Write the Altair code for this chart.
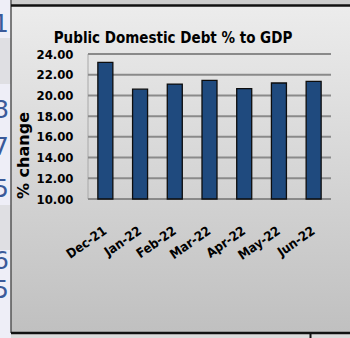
import altair as alt
import pandas as pd

# ---- data ----
months = ["Dec-21", "Jan-22", "Feb-22", "Mar-22", "Apr-22", "May-22", "Jun-22"]
debt = [23.2, 20.6, 21.1, 21.45, 20.65, 21.2, 21.35]
y_ticks = [10, 12, 14, 16, 18, 20, 22, 24]
title_text = "Public Domestic Debt % to GDP"
y_title = "% change"
edge_digits = ["1", "8", "7", "5", "6", "5"]
edge_digit_y = [24, 110, 147, 189, 261, 290]

df = pd.DataFrame({"month": months, "debt": debt})
tick_df = pd.DataFrame({"v": y_ticks})
one = pd.DataFrame({"k": [0]})
title_df = pd.DataFrame({"t": [title_text]})
edge_df = pd.DataFrame({"d": edge_digits, "yy": edge_digit_y})

PL, PT = 88, 54          # plot origin in the page
W, H = 243, 145          # plot size
NARROW = "Liberation Sans Narrow, Arial Narrow, DejaVu Sans Condensed, sans-serif"

grad = alt.LinearGradient(
    gradient="linear",
    stops=[alt.GradientStop(color="#ececec", offset=0),
           alt.GradientStop(color="#c0c0c0", offset=1)],
    x1=0, x2=0, y1=0, y2=1,
)


def box(x0, x1, y0, y1, color):
    return alt.Chart(one).mark_rect(color=color, clip=False).encode(
        x=alt.value(x0 - PL), x2=alt.value(x1 - PL),
        y=alt.value(y0 - PT), y2=alt.value(y1 - PT))


def rule(x0, x1, y0, y1, color, w):
    return alt.Chart(one).mark_rule(color=color, strokeWidth=w, clip=False).encode(
        x=alt.value(x0 - PL), x2=alt.value(x1 - PL),
        y=alt.value(y0 - PT), y2=alt.value(y1 - PT))


panel = alt.Chart(one).mark_rect(color=grad, clip=False).encode(
    x=alt.value(11 - PL), x2=alt.value(350 - PL),
    y=alt.value(6 - PT), y2=alt.value(332 - PT))

deco = [
    box(0, 11, 38, 84, "#dfdfe3"),
    box(0, 11, 205, 250, "#dfdfe3"),
    box(11, 350, 0, 5, "#cdcdcd"),
    box(11, 350, 334, 338, "#dcdcdc"),
    rule(11, 11, 0, 333, "#555555", 1.5),
    rule(11, 350, 5.5, 5.5, "#111111", 2.5),
    rule(11, 350, 333, 333, "#111111", 2.5),
    rule(310.5, 310.5, 333, 338, "#111111", 2),
    rule(PL, PL, PT, PT + H, "#a8a8a8", 1),
]

digits = alt.Chart(edge_df).transform_calculate(
    yp="datum.yy - %d" % PT
).mark_text(
    align="right", baseline="middle", fontSize=25, font="DejaVu Sans",
    color="#3a5a9a", clip=False,
).encode(x=alt.value(9 - PL), y=alt.Y("yp:Q", scale=None), text="d:N")

title = alt.Chart(title_df).mark_text(
    align="center", baseline="alphabetic", font=NARROW, fontWeight="bold",
    fontSize=15, color="#000000", clip=False,
).encode(x=alt.value(173 - PL), y=alt.value(43 - PT), text="t:N")

yscale = alt.Scale(domain=[10, 24], nice=False, zero=False)
yaxis = alt.Axis(values=y_ticks, format=".2f", title=y_title,
                 titleFont="DejaVu Sans", titleFontWeight="bold",
                 titleFontSize=16, titleColor="#000000",
                 titleAngle=270, titleX=23 - PL, titleY=155 - PT,
                 titleAlign="center", titleBaseline="middle",
                 labelFont=NARROW, labelFontWeight="bold",
                 labelFontSize=13, labelColor="#000000",
                 labelOverlap=False, labelPadding=15, ticks=False,
                 domain=False, grid=False, zindex=2)

grid = alt.Chart(tick_df).mark_rule(color="#8a8a8a", strokeWidth=2).encode(
    y=alt.Y("v:Q", scale=yscale, axis=yaxis, title=y_title),
    x=alt.value(0), x2=alt.value(W),
)

bars = alt.Chart(df).mark_bar(
    color="#1f4a7e", stroke="#0d0d0d", strokeWidth=1.3, width=15,
).encode(
    x=alt.X("month:N", sort=months,
            scale=alt.Scale(paddingInner=0, paddingOuter=0),
            axis=alt.Axis(title=None, labelAngle=-35, labelAlign="right",
                          labelBaseline="middle", labelPadding=30,
                          labelFont=NARROW, labelFontWeight="bold",
                          labelFontSize=13, labelColor="#000000",
                          labelOverlap=False,
                          domain=False, ticks=False, grid=False, zindex=2)),
    y=alt.Y("debt:Q", scale=yscale, axis=yaxis, title=y_title),
    y2=alt.datum(10),
)

chart = alt.layer(panel, *deco, digits, grid, bars, title).properties(
    width=W, height=H,
    autosize=alt.AutoSizeParams(type="none"),
    padding={"left": PL, "top": PT, "right": 350 - PL - W, "bottom": 338 - PT - H},
    background="#eeeef7",
).configure_view(stroke=None).configure_axis(labelOverlap=False)

chart.save("out.html", embed_options={"renderer": "svg", "actions": False})
